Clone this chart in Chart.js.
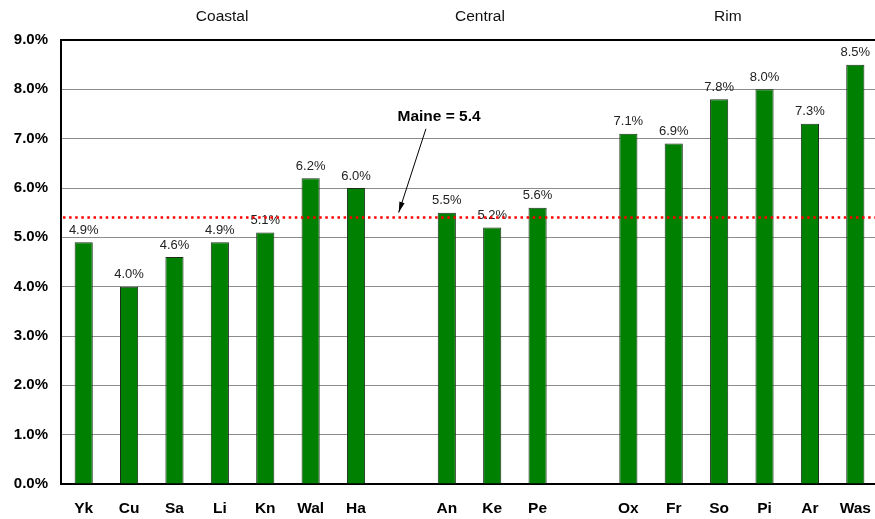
<!DOCTYPE html>
<html>
<head>
<meta charset="utf-8">
<script src="https://cdn.jsdelivr.net/npm/chart.js@4.4.1/dist/chart.umd.min.js"></script>
<style>
  html, body { margin: 0; padding: 0; background: #fff; overflow: hidden; }
  #wrap { width: 878px; height: 519px; }
</style>
</head>
<body>
<div id="wrap"><canvas id="rateChart" width="878" height="519"></canvas></div>
<script>
// categories (empty strings are the gaps between county groups)
const counties = ["Yk", "Cu", "Sa", "Li", "Kn", "Wal", "Ha", "", "An", "Ke", "Pe", "", "Ox", "Fr", "So", "Pi", "Ar", "Was"];
const rates = [4.9, 4.0, 4.6, 4.9, 5.1, 6.2, 6.0, null, 5.5, 5.2, 5.6, null, 7.1, 6.9, 7.8, 8.0, 7.3, 8.5];
const yTicks = [0, 1, 2, 3, 4, 5, 6, 7, 8, 9];
const groupNames = ["Coastal", "Central", "Rim"];
const groupCenters = [3.05, 8.73, 14.19];   // position along the category axis
const maineRate = 5.4;

const overlay = {
    id: "overlay",
    afterDatasetsDraw(chart) {
        const ctx = chart.ctx;
        const x = chart.scales.x;
        const y = chart.scales.y;
        const area = chart.chartArea;

        ctx.save();

        // value labels over bars
        ctx.font = "13px 'Liberation Sans', Arial, sans-serif";
        ctx.fillStyle = "#222";
        ctx.textAlign = "center";
        ctx.textBaseline = "middle";
        rates.forEach((v, i) => {
            if (v === null) return;
            ctx.fillText(v.toFixed(1) + "%", x.getPixelForValue(i), y.getPixelForValue(v) - 12);
        });

        // Maine average line
        const ly = y.getPixelForValue(maineRate);
        ctx.strokeStyle = "#ff0000";
        ctx.lineWidth = 2.5;
        ctx.setLineDash([2.5, 3.6]);
        ctx.beginPath();
        ctx.moveTo(area.left + 2, ly);
        ctx.lineTo(area.right, ly);
        ctx.stroke();
        ctx.setLineDash([]);

        // arrow + label
        const x0 = x.getPixelForValue(7.54), y0 = y.getPixelForValue(7.2);
        const x1 = x.getPixelForValue(6.94), y1 = ly - 5;
        ctx.strokeStyle = "#000";
        ctx.fillStyle = "#000";
        ctx.lineWidth = 1;
        ctx.beginPath();
        ctx.moveTo(x0, y0);
        ctx.lineTo(x1, y1);
        ctx.stroke();
        const ang = Math.atan2(y1 - y0, x1 - x0);
        ctx.beginPath();
        ctx.moveTo(x1, y1);
        ctx.lineTo(x1 - 11 * Math.cos(ang - 0.25), y1 - 11 * Math.sin(ang - 0.25));
        ctx.lineTo(x1 - 11 * Math.cos(ang + 0.25), y1 - 11 * Math.sin(ang + 0.25));
        ctx.closePath();
        ctx.fill();

        ctx.font = "bold 15.5px 'Liberation Sans', Arial, sans-serif";
        ctx.fillText("Maine = " + maineRate.toFixed(1), x.getPixelForValue(7.83), y.getPixelForValue(7.44));

        // group headers
        ctx.font = "15.5px 'Liberation Sans', Arial, sans-serif";
        ctx.fillStyle = "#111";
        groupNames.forEach((g, i) => {
            ctx.fillText(g, x.getPixelForValue(groupCenters[i]), 17);
        });

        ctx.restore();
    }
};

new Chart(document.getElementById("rateChart"), {
    type: "bar",
    data: {
        labels: counties,
        datasets: [{
            data: rates,
            backgroundColor: "#008000",
            borderColor: "#1c2e1c",
            borderWidth: 1,
            barPercentage: 0.4,
            categoryPercentage: 1.0
        }]
    },
    options: {
        responsive: false,
        animation: false,
        layout: { padding: { top: 40, left: 0, right: 0, bottom: 0 } },
        plugins: {
            legend: { display: false },
            tooltip: { enabled: false }
        },
        scales: {
            x: {
                grid: { display: false, drawTicks: false },
                border: { color: "#000", width: 2 },
                ticks: {
                    color: "#000",
                    padding: 15,
                    font: { family: "'Liberation Sans', Arial, sans-serif", size: 15.5, weight: "bold" }
                },
                afterFit(scale) {
                    scale.height = 35;
                    scale.paddingLeft = 0;
                    scale.paddingRight = 0;
                }
            },
            y: {
                min: 0,
                max: 9,
                afterBuildTicks(scale) { scale.ticks = yTicks.map(v => ({ value: v })); },
                grid: {
                    drawTicks: false,
                    color: (c) => c.tick && c.tick.value === 9 ? "#000" : "#8c8c8c",
                    lineWidth: (c) => c.tick && c.tick.value === 9 ? 2 : 1
                },
                border: { color: "#000", width: 2 },
                ticks: {
                    color: "#000",
                    padding: 13,
                    font: { family: "'Liberation Sans', Arial, sans-serif", size: 15, weight: "bold" },
                    callback: (v) => Number(v).toFixed(1) + "%"
                },
                afterFit(scale) {
                    scale.width = 61;
                    scale.paddingTop = 0;
                    scale.paddingBottom = 0;
                }
            }
        }
    },
    plugins: [overlay]
});
</script>
</body>
</html>
